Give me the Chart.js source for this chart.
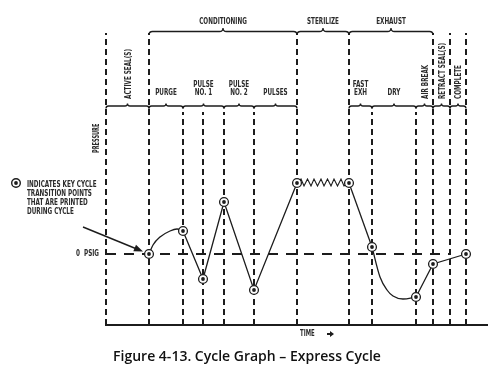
<!DOCTYPE html>
<html>
<head>
<meta charset="utf-8">
<script src="https://cdn.jsdelivr.net/npm/chart.js@4"></script>
<style>
  html, body { margin: 0; padding: 0; background: #ffffff; }
  #wrap { width: 500px; height: 378px; }
</style>
</head>
<body>
<div id="wrap"><canvas id="c" width="500" height="378"></canvas></div>
<script>
// ---------- data (time units on x, relative pressure on y; 0 = 0 PSIG) ----------
const KEY_X = [43, 77, 97, 118, 148, 191, 243, 266, 310, 327, 360];
const KEY_Y = [0, 23, -25, 52, -36, 71, 71, 7, -43, -10, 0];

const RISE_X = [43, 47, 54, 64, 71, 77];
const RISE_Y = [0, 9, 17, 23, 25, 23];
const PULSE_X = [77, 97, 118, 148, 191];
const PULSE_Y = [23, -25, 52, -36, 71];
const HOLD_X = [191, 195, 198, 201.5, 205, 208, 211.5, 215, 218, 221.5, 225, 228, 231.5, 235, 238, 243];
const HOLD_Y = [71, 75, 68, 75, 68, 75, 68, 75, 68, 75, 68, 75, 68, 75, 68, 71];
const FAST_X = [243, 266];
const FAST_Y = [71, 7];
const DRY_X = [266, 274, 281, 287, 297, 310];
const DRY_Y = [7, -23, -36, -42, -45, -43];
const VENT_X = [310, 327, 360];
const VENT_Y = [-43, -10, 0];

const ZERO_LINE_X = [0, 344];

// phase boundaries
const TALL_BOUNDS = [0, 43, 191, 243, 327, 344, 360];
const SHORT_BOUNDS = [77, 97, 118, 148, 266, 310];

const GROUPS = [
  { text: 'CONDITIONING', from: 43, to: 191 },
  { text: 'STERILIZE', from: 191, to: 243 },
  { text: 'EXHAUST', from: 243, to: 327 }
];
const STEPS = [
  { text: ['ACTIVE SEAL(S)'], from: 0, to: 43, vertical: true },
  { text: ['PURGE'], from: 43, to: 77 },
  { text: ['PULSE', 'NO. 1'], from: 77, to: 118 },
  { text: ['PULSE', 'NO. 2'], from: 118, to: 148 },
  { text: ['PULSES'], from: 148, to: 191 },
  { text: ['FAST', 'EXH'], from: 243, to: 266 },
  { text: ['DRY'], from: 266, to: 310 },
  { text: ['AIR BREAK'], from: 310, to: 327, vertical: true },
  { text: ['RETRACT SEAL(S)'], from: 327, to: 344, vertical: true },
  { text: ['COMPLETE'], from: 344, to: 360, vertical: true }
];
const LEGEND_LINES = ['INDICATES KEY CYCLE', 'TRANSITION POINTS', 'THAT ARE PRINTED', 'DURING CYCLE'];
const Y_TITLE = 'PRESSURE';
const X_TITLE = 'TIME';
const ZERO_LABEL = '0  PSIG';
const CAPTION = 'Figure 4-13. Cycle Graph \u2013 Express Cycle';

const X_MIN = 0, X_MAX = 381, Y_MIN = -71, Y_MAX = 221, SHORT_TOP = 142;

// ---------- helpers ----------
const pts = (xs, ys) => xs.map((x, i) => ({ x: x, y: ys[i] }));
function boundLines(xs, top) {
  const out = [];
  xs.forEach(x => { out.push({ x: x, y: Y_MIN }, { x: x, y: top }, { x: x, y: null }); });
  return out;
}
const INK = '#1c1c1c';
const NARROW = '"Liberation Sans Narrow", "DejaVu Sans Condensed", "Liberation Sans", sans-serif';

function label(ctx, text, x, y, size, opts) {
  opts = opts || {};
  ctx.save();
  ctx.translate(x, y);
  if (opts.rotate) ctx.rotate(-Math.PI / 2);
  ctx.scale(opts.sx || 0.70, 1);
  ctx.font = 'bold ' + size + 'px ' + NARROW;
  ctx.textAlign = opts.align || 'center';
  ctx.textBaseline = 'middle';
  ctx.fillStyle = '#2b2b2b';
  ctx.fillText(text, 0, 0);
  ctx.restore();
}
function brace(ctx, x1, x2, y, h) {
  const m = (x1 + x2) / 2;
  ctx.beginPath();
  ctx.moveTo(x1, y + h);
  ctx.quadraticCurveTo(x1, y, x1 + h, y);
  ctx.lineTo(m - h, y);
  ctx.quadraticCurveTo(m, y, m, y - h);
  ctx.quadraticCurveTo(m, y, m + h, y);
  ctx.lineTo(x2 - h, y);
  ctx.quadraticCurveTo(x2, y, x2, y + h);
  ctx.stroke();
}

const annotations = {
  id: 'annotations',
  afterDraw(chart) {
    const ctx = chart.ctx;
    const xs = chart.scales.x, ys = chart.scales.y;
    const px = v => xs.getPixelForValue(v);
    const y0 = ys.getPixelForValue(0);
    ctx.save();
    ctx.strokeStyle = INK;
    ctx.lineWidth = 1.3;
    ctx.setLineDash([]);
    // group braces
    const gy = chart.chartArea.top - 1.5;
    GROUPS.forEach(g => {
      brace(ctx, px(g.from), px(g.to), gy, 3.5);
      label(ctx, g.text, (px(g.from) + px(g.to)) / 2, 22, 9);
    });
    // step braces
    const sy = ys.getPixelForValue(SHORT_TOP) - 6;
    STEPS.forEach(s => {
      const a = px(s.from), b = px(s.to), c = (a + b) / 2;
      brace(ctx, a, b, sy, 2.5);
      if (s.vertical) {
        label(ctx, s.text[0], c + 1, sy - 7, 9, { rotate: true, align: 'left' });
      } else if (s.text.length === 2) {
        label(ctx, s.text[0], c, sy - 21, 9);
        label(ctx, s.text[1], c, sy - 13, 9);
      } else {
        label(ctx, s.text[0], c, sy - 13, 9);
      }
    });
    // y title, zero label
    label(ctx, Y_TITLE, chart.chartArea.left - 9, 153, 8, { rotate: true, align: 'left' });
    label(ctx, ZERO_LABEL, chart.chartArea.left - 7, y0, 9, { align: 'right' });
    // x title with arrow
    const by = chart.chartArea.bottom;
    label(ctx, X_TITLE, 300, by + 9, 8.5, { align: 'left' });
    ctx.fillStyle = INK;
    ctx.beginPath();
    ctx.moveTo(327, by + 8); ctx.lineTo(330, by + 8); ctx.lineTo(330, by + 6);
    ctx.lineTo(334, by + 9); ctx.lineTo(330, by + 12); ctx.lineTo(330, by + 10);
    ctx.lineTo(327, by + 10); ctx.closePath(); ctx.fill();
    // legend marker + text
    ctx.lineWidth = 1.4;
    ctx.beginPath(); ctx.arc(16, 183, 4.3, 0, Math.PI * 2);
    ctx.fillStyle = '#fff'; ctx.fill(); ctx.stroke();
    ctx.fillStyle = INK;
    ctx.beginPath(); ctx.arc(16, 183, 1.9, 0, Math.PI * 2); ctx.fill();
    LEGEND_LINES.forEach((t, i) => label(ctx, t, 27, 185 + i * 9, 9, { align: 'left' }));
    // arrow to first key point
    const tx = px(KEY_X[0]) - 6, ty = y0 - 2.5;
    const fx = 83, fy = 227;
    const ang = Math.atan2(ty - fy, tx - fx);
    ctx.lineWidth = 1.4;
    ctx.beginPath(); ctx.moveTo(fx, fy);
    ctx.lineTo(tx - 6 * Math.cos(ang), ty - 6 * Math.sin(ang)); ctx.stroke();
    ctx.beginPath();
    ctx.moveTo(tx, ty);
    ctx.lineTo(tx - 9 * Math.cos(ang) + 3.5 * Math.sin(ang), ty - 9 * Math.sin(ang) - 3.5 * Math.cos(ang));
    ctx.lineTo(tx - 9 * Math.cos(ang) - 3.5 * Math.sin(ang), ty - 9 * Math.sin(ang) + 3.5 * Math.cos(ang));
    ctx.closePath(); ctx.fill();
    // caption
    ctx.font = '600 14px "Open Sans", "Noto Sans", sans-serif';
    ctx.textAlign = 'center';
    ctx.textBaseline = 'alphabetic';
    ctx.fillStyle = '#111';
    ctx.fillText(CAPTION, 247, 361);
    ctx.restore();
  }
};

const lineDs = (xs, ys, extra) => Object.assign({
  data: pts(xs, ys), borderColor: INK, borderWidth: 1.3, pointRadius: 0,
  tension: 0, fill: false, order: 2, clip: false
}, extra || {});

new Chart(document.getElementById('c'), {
  type: 'line',
  data: {
    datasets: [
      { data: pts(KEY_X, KEY_Y), showLine: false, pointRadius: 1.9, pointBackgroundColor: INK,
        pointBorderWidth: 0, order: 0, clip: false },
      { data: pts(KEY_X, KEY_Y), showLine: false, pointRadius: 4.4, pointBackgroundColor: '#fff',
        pointBorderColor: INK, pointBorderWidth: 1.3, order: 1, clip: false },
      lineDs(RISE_X, RISE_Y, { cubicInterpolationMode: 'monotone' }),
      lineDs(PULSE_X, PULSE_Y),
      lineDs(HOLD_X, HOLD_Y, { borderWidth: 1.1 }),
      lineDs(FAST_X, FAST_Y),
      lineDs(DRY_X, DRY_Y, { cubicInterpolationMode: 'monotone' }),
      lineDs(VENT_X, VENT_Y),
      lineDs(ZERO_LINE_X, [0, 0], { borderWidth: 2, borderDash: [10, 8], order: 3 }),
      { data: boundLines(TALL_BOUNDS, Y_MAX), borderColor: INK, borderWidth: 2, borderDash: [6, 4],
        pointRadius: 0, spanGaps: false, order: 4, clip: false },
      { data: boundLines(SHORT_BOUNDS, SHORT_TOP), borderColor: INK, borderWidth: 2, borderDash: [6, 4],
        pointRadius: 0, spanGaps: false, order: 4, clip: false }
    ]
  },
  options: {
    responsive: false,
    animation: false,
    devicePixelRatio: 1,
    parsing: true,
    layout: { padding: { left: 106, right: 13, top: 33, bottom: 53 } },
    plugins: { legend: { display: false }, tooltip: { enabled: false }, title: { display: false } },
    scales: {
      x: { type: 'linear', min: X_MIN, max: X_MAX, display: true,
           grid: { display: false, drawTicks: false }, ticks: { display: false },
           border: { display: true, color: INK, width: 2 } },
      y: { type: 'linear', min: Y_MIN, max: Y_MAX, display: false }
    }
  },
  plugins: [annotations]
});
</script>
</body>
</html>
